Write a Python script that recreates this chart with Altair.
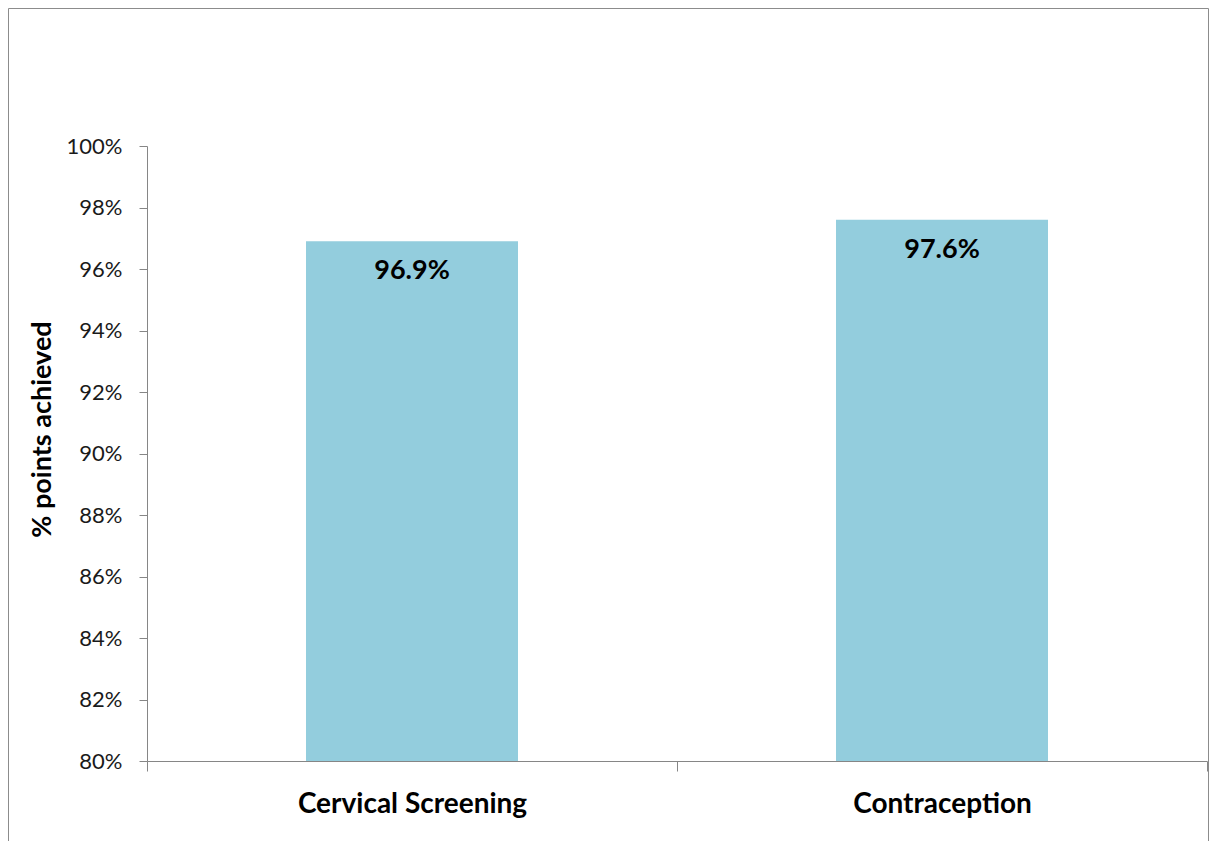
import altair as alt
import pandas as pd

categories = ["Cervical Screening", "Contraception"]
values = [0.969, 0.976]
y_ticks = [0.80, 0.82, 0.84, 0.86, 0.88, 0.90, 0.92, 0.94, 0.96, 0.98, 1.00]
y_min, y_max = 0.80, 1.00

W, H = 1060, 615
FONT = "Lato"
AXIS_GRAY = "#868686"
BAR_COLOR = "#93CDDD"

df = pd.DataFrame({
    "category": categories,
    "value": values,
    "idx": list(range(len(categories))),
})
df["x0"] = df["idx"] + 0.3
df["x1"] = df["idx"] + 0.7
df["xc"] = df["idx"] + 0.5
df["base"] = y_min

label_expr = " : ".join(
    [f"datum.value == {i} ? '{c}'" for i, c in enumerate(categories)]
) + " : ''"

x_scale = alt.Scale(domain=[0, len(categories)], nice=False, zero=False)
y_scale = alt.Scale(domain=[y_min, y_max], nice=False, zero=False)

x_axis = alt.Axis(
    values=list(range(len(categories) + 1)),
    labelExpr=label_expr,
    labelOffset=W / len(categories) / 2,
    labelAlign="center",
    labelBaseline="middle",
    labelFlush=False,
    labelOverlap=False,
    labelBound=False,
    labelLimit=0,
    labelPadding=33,
    labelFont=FONT,
    labelFontSize=28,
    labelFontWeight="bold",
    labelColor="#000000",
    tickSize=10,
    tickColor=AXIS_GRAY,
    domainColor=AXIS_GRAY,
    grid=False,
    title=None,
)

y_axis = alt.Axis(
    values=y_ticks,
    format=".0%",
    labelFont=FONT,
    labelFontSize=22,
    labelColor="#1a1a1a",
    labelPadding=17,
    tickSize=8,
    tickColor=AXIS_GRAY,
    domainColor=AXIS_GRAY,
    grid=False,
    title="% points achieved",
    titleFont=FONT,
    titleFontSize=27,
    titleFontWeight="bold",
    titleColor="#000000",
    titleAngle=270,
    titleAlign="center",
    titleBaseline="middle",
    titleX=-105,
    titleY=283,
)

base = alt.Chart(df)

bars = base.mark_bar(color=BAR_COLOR).encode(
    x=alt.X("x0:Q", scale=x_scale, axis=x_axis),
    x2="x1:Q",
    y=alt.Y("value:Q", scale=y_scale, axis=y_axis),
    y2="base:Q",
)

labels = base.mark_text(
    font=FONT, fontSize=27, fontWeight="bold", color="#000000",
    baseline="middle", align="center", dy=30,
).encode(
    x=alt.X("xc:Q", scale=x_scale),
    y=alt.Y("value:Q", scale=y_scale),
    text=alt.Text("value:Q", format=".1%"),
)

frame = alt.Chart(alt.Data(values=[{"f": 1}])).mark_rect(
    fill=None, stroke="#8c8c8c", strokeWidth=1
).encode(
    x=alt.value(-138.5), x2=alt.value(1061.5),
    y=alt.value(-137.5), y2=alt.value(730),
)

chart = alt.layer(bars, labels, frame).properties(
    width=W, height=H,
    autosize=alt.AutoSizeParams(type="none"),
    padding={"left": 139, "top": 138, "right": 2, "bottom": 80},
).configure(background="white", view=alt.ViewConfig(stroke=None))

chart.save("out.html", embed_options={"renderer": "svg", "actions": False})
